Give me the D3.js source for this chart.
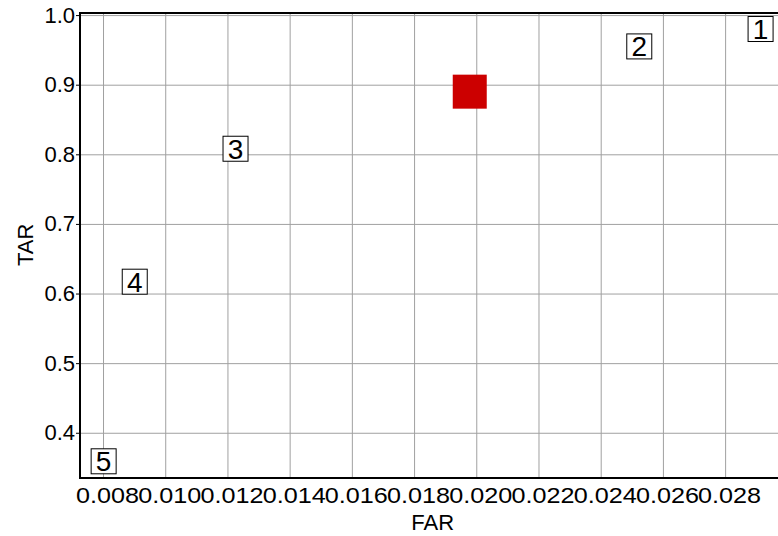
<!DOCTYPE html>
<html>
<head>
<meta charset="utf-8">
<script src="https://cdnjs.cloudflare.com/ajax/libs/d3/7.8.5/d3.min.js"></script>
<style>
  body { margin:0; background:#fff; }
  #canvas { width:778px; height:536px; }
  text { font-family:"Liberation Sans", Arial, sans-serif; fill:#000; }
  .grid line { stroke:#a0a0a0; stroke-width:1; }
  .grid path { display:none; }
</style>
</head>
<body>
<div id="canvas" class="canvas"></div>
<script>
// data
var pointLabels = ['1','2','3','4','5'];
var pointFAR = [0.02914, 0.02524, 0.01226, 0.00902, 0.00802];
var pointTAR = [0.980, 0.955, 0.808, 0.617, 0.359];
var markFAR = [0.01979];
var markTAR = [0.890];
var xTicks = [0.008,0.010,0.012,0.014,0.016,0.018,0.020,0.022,0.024,0.026,0.028];
var yTicks = [0.4,0.5,0.6,0.7,0.8,0.9,1.0];

//margin convention
var m = {t:13,r:0,b:58,l:80};
var outerWidth = 778,
    outerHeight = 536;
var w = outerWidth - m.l - m.r,
    h = outerHeight - m.t - m.b;

var svg = d3.select('.canvas')
    .append('svg')
    .attr('width',outerWidth)
    .attr('height',outerHeight);

var plot = svg.append('g')
    .attr('transform','translate(' + m.l + ',' + m.t + ')');

//scales
var scaleX = d3.scaleLinear()
    .domain([0.00726, 0.0297])
    .range([0, w]);
var scaleY = d3.scaleLinear()
    .domain([0.335, 1.003])
    .range([h, 0]);

//grid
plot.append('g').attr('class','grid')
    .attr('transform','translate(0,'+h+')')
    .call(d3.axisBottom(scaleX).tickValues(xTicks).tickSize(-h).tickFormat(''));
plot.append('g').attr('class','grid')
    .call(d3.axisLeft(scaleY).tickValues(yTicks).tickSize(-w).tickFormat(''));

//axes
var axisY = d3.axisLeft(scaleY)
    .tickValues(yTicks)
    .tickSize(4)
    .tickPadding(1)
    .tickFormat(d3.format('.1f'));
var gy = plot.append('g').attr('class','axis').call(axisY);
gy.selectAll('text').style('font-size','22px');
gy.selectAll('line').attr('stroke','#000');
gy.select('.domain').attr('stroke','#000').attr('stroke-width',2)
    .attr('d','M0,0V'+h);

var axisX = d3.axisBottom(scaleX)
    .tickValues(xTicks)
    .tickSize(0)
    .tickPadding(9)
    .tickFormat(d3.format('.3f'));
var gx = plot.append('g').attr('class','axis')
    .attr('transform','translate(0,'+h+')')
    .call(axisX);
gx.selectAll('text')
    .style('font-size','22px')
    .attr('dx',4)
    .attr('textLength',63)
    .attr('lengthAdjust','spacingAndGlyphs');
gx.select('.domain').attr('stroke','#000').attr('stroke-width',2)
    .attr('d','M-1,0H'+w);

//top border
plot.append('line')
    .attr('x1',-1).attr('x2',w)
    .attr('y1',0).attr('y2',0)
    .attr('stroke','#000').attr('stroke-width',2);

//axis titles
svg.append('text')
    .attr('x', m.l + scaleX(0.0186))
    .attr('y', 530)
    .attr('text-anchor','middle')
    .style('font-size','22px')
    .text('FAR');
svg.append('text')
    .attr('transform','translate(33,'+(m.t+scaleY(0.67))+') rotate(-90)')
    .attr('text-anchor','middle')
    .style('font-size','22px')
    .text('TAR');

//red marker
plot.selectAll('rect.mark')
    .data(markFAR)
    .enter()
    .append('rect')
    .attr('class','mark')
    .attr('x',function(d){ return scaleX(d) - 17; })
    .attr('y',function(d,i){ return scaleY(markTAR[i]) - 17; })
    .attr('width',34)
    .attr('height',34)
    .attr('fill','#cc0000');

//numbered boxes
var pts = plot.selectAll('g.pt')
    .data(pointLabels)
    .enter()
    .append('g')
    .attr('class','pt')
    .attr('transform',function(d,i){ return 'translate('+scaleX(pointFAR[i])+','+scaleY(pointTAR[i])+')'; });

pts.append('rect')
    .attr('x',-12.5).attr('y',-12.5)
    .attr('width',25).attr('height',25)
    .attr('fill','#fff')
    .attr('stroke','#000')
    .attr('stroke-width',1);

pts.append('text')
    .attr('text-anchor','middle')
    .attr('y',10)
    .style('font-size','28px')
    .text(function(d){ return d; });
</script>
</body>
</html>
